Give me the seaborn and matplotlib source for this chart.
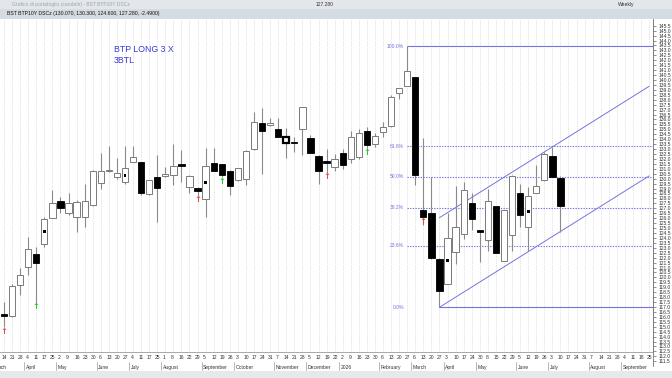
import numpy as np
import pandas as pd
import matplotlib
matplotlib.use("Agg")
import matplotlib.pyplot as plt
import seaborn as sns
from matplotlib.patches import Rectangle
from matplotlib.transforms import blended_transform_factory

# ---------------- data (weekly candles) ----------------
opens = [116.3, 116.1, 119.2, 121.1, 122.4, 123.35, 126.0, 127.75, 126.55, 126.1,
         126.1, 127.3, 129.55, 130.75, 130.15, 129.65, 131.7, 131.65, 128.4, 130.15,
         130.25, 130.35, 131.45, 129.2, 129.1, 127.9, 131.6, 131.45, 130.8, 129.85,
         129.95, 133.0, 135.6, 135.4, 135.05, 133.6, 133.75, 135.05, 134.1, 132.3,
         131.8, 131.2, 132.6, 132.0, 132.2, 134.8, 133.5,
         134.7, 135.3, 138.65, 139.4, 140.27, 126.83, 126.55, 121.9, 119.35, 122.6,
         124.35, 127.5, 124.8, 123.8, 127.2, 121.7, 124.25, 128.6, 125.15, 128.6,
         129.85, 132.3, 130.07]
highs = [117.5, 119.3, 121.0, 124.1, 123.1, 126.15, 128.85, 128.1, 128.6, 127.85,
         129.5, 130.9, 132.6, 133.3, 132.05, 133.3, 133.3, 131.7, 129.9, 132.4,
         131.2, 133.5, 132.9, 130.35, 129.15, 133.1, 133.1, 131.5, 130.85, 131.1,
         132.9, 136.8, 137.2, 136.1, 136.1, 135.1, 134.25, 137.3, 134.4, 132.35,
         133.0, 132.5, 133.0, 134.8, 135.0, 135.2, 134.6,
         135.7, 138.5, 139.2, 143.4, 140.3, 134.1, 130.2, 121.95, 126.55, 129.3,
         129.7, 128.5, 124.85, 129.0, 127.25, 126.85, 130.35, 129.45, 129.2, 131.4,
         132.75, 133.25, 130.3]
lows = [115.0, 116.0, 118.2, 120.25, 117.4, 123.1, 126.0, 126.5, 126.3, 124.6,
        125.1, 127.2, 129.0, 130.7, 130.0, 129.5, 131.7, 128.35, 128.35, 125.65,
        130.2, 129.35, 129.7, 128.5, 128.2, 126.1, 130.75, 130.2, 128.35, 129.8,
        129.4, 132.95, 130.5, 135.35, 134.2, 132.1, 132.75, 132.4, 132.6, 129.45,
        130.6, 130.8, 131.0, 131.6, 132.0, 132.9, 133.2,
        134.25, 135.25, 138.1, 139.35, 129.35, 125.3, 121.9, 116.97, 119.3, 121.35,
        123.85, 124.8, 121.6, 122.7, 122.45, 121.65, 122.7, 125.1, 122.7, 128.55,
        129.8, 130.15, 124.6]
closes = [116.1, 119.1, 120.2, 122.85, 121.5, 125.9, 127.5, 127.0, 127.5, 127.6,
          127.75, 130.8, 130.75, 130.9, 130.55, 131.05, 132.2, 128.5, 129.85, 129.1,
          130.45, 131.3, 131.3, 130.3, 128.8, 131.25, 130.8, 130.4, 129.25, 131.05,
          132.85, 135.7, 134.8, 135.6, 134.25, 134.2, 133.6, 137.25, 132.65, 130.8,
          131.6, 132.0, 131.4, 134.2, 134.6, 133.4, 134.3,
          135.2, 138.3, 139.15, 140.9, 130.37, 126.15, 121.95, 118.65, 124.0, 125.1,
          128.9, 125.9, 124.55, 127.75, 122.5, 126.8, 130.3, 126.3, 128.25, 129.25,
          132.5, 130.2, 127.28]
dot_weeks = [5, 15, 25, 55, 65]
red_arrow_weeks = [0, 24, 40, 52]
red_arrow_prices = [114.5, 127.9, 130.2, 125.7]
green_arrow_weeks = [4, 27, 45]
green_arrow_prices = [117.1, 129.7, 132.7]

day_labels = ["14", "21", "28", "4", "11", "17", "25", "2", "9", "16", "23", "30",
              "6", "13", "20", "27", "4", "11", "17", "25", "1", "8", "16", "22", "29",
              "5", "12", "19", "26", "3", "10", "17", "24", "31", "7", "14", "21", "28",
              "5", "12", "19", "22", "2", "9", "16", "23", "30", "6", "13", "20", "27",
              "6", "13", "20", "27", "3", "10", "17", "24", "30", "8", "15", "22", "29",
              "5", "12", "19", "26", "3", "10", "17", "24", "31", "7", "14", "21", "28",
              "4", "11", "18", "25"]
month_weeks = [-0.3, 3, 7, 12, 16, 20, 25, 29, 34, 38, 42, 47, 51, 55, 59, 64, 68, 73, 77]
month_names = ["rch", "April", "May", "June", "July", "August", "September", "October",
               "November", "December", "2026", "February", "March", "April", "May",
               "June", "July", "August", "September"]

fib_levels = [0.0, 0.236, 0.382, 0.5, 0.618, 1.0]
fib_labels = ["0.0%", "23.6%", "38.2%", "50.0%", "61.8%", "100.0%"]
fib_high, fib_low = 143.4, 116.97
fib_start_week, fib_low_week = 50, 54
channel_slope = 0.512
channel_lower0, channel_upper0 = 116.97, 126.05
channel_end_week = 80

# ---------------- figure setup ----------------
sns.set_theme(style="white")
plt.rcParams["font.family"] = ["Liberation Sans", "DejaVu Sans"]
W, H = 672, 378
fig = plt.figure(figsize=(W / 100, H / 100), dpi=100)
fig.patch.set_facecolor("white")

def fy(p):
    return 1 - p / H

ax = fig.add_axes([0, fy(352), 653 / W, (352 - 19) / H])
ax.set_facecolor("white")
XMIN, XMAX = -0.334, 80.48
YMIN, YMAX = 112.44, 146.18
ax.set_xlim(XMIN, XMAX)
ax.set_ylim(YMIN, YMAX)

n = len(opens)
weeks = np.arange(n)
df = pd.DataFrame({"week": weeks, "open": opens, "high": highs,
                   "low": lows, "close": closes})
df["up"] = df["close"] >= df["open"]

# vertical dotted grid
grid_weeks = np.arange(0, 81)
ax.vlines(grid_weeks, YMIN, YMAX, colors="#c9c9c9", linestyles=(0, (1, 1.5)), lw=0.5, zorder=0)

BW = 0.78
# wicks
ax.vlines(df["week"], df["low"], df["high"], colors="#8a8a8a", lw=0.8, zorder=2)
# bodies
up = df[df["up"]]
dn = df[~df["up"]]
ax.bar(up["week"], (up["close"] - up["open"]).clip(lower=0.06), bottom=up["open"], width=BW,
       color="white", edgecolor="#7a7a7a", lw=0.7, zorder=3)
ax.bar(dn["week"], (dn["open"] - dn["close"]).clip(lower=0.12), bottom=dn["close"], width=BW,
       color="black", edgecolor="black", lw=0.6, zorder=3)
# bold outlined candle
ax.bar([35], [closes[35] - opens[35]], bottom=[opens[35]], width=BW,
       color="white", edgecolor="black", lw=1.6, zorder=4)

# dots inside candles
dots = pd.DataFrame({"week": dot_weeks,
                     "price": [(opens[w] + closes[w]) / 2 for w in dot_weeks]})
sns.scatterplot(data=dots, x="week", y="price", marker="s", s=4, color="black",
                edgecolor="none", ax=ax, zorder=5, legend=False)

# arrows
for w, p in zip(red_arrow_weeks, red_arrow_prices):
    ax.text(w, p, "\u2191", color="#e8484a", fontsize=6, ha="center", va="center",
            fontweight="bold", family="DejaVu Sans", zorder=6)
for w, p in zip(green_arrow_weeks, green_arrow_prices):
    ax.text(w, p, "\u2191", color="#22cc22", fontsize=6, ha="center", va="center",
            fontweight="bold", family="DejaVu Sans", zorder=6)

# fibonacci levels
blue = "#7474e0"
rng = fib_high - fib_low
for lev, lab in zip(fib_levels, fib_labels):
    price = fib_low + lev * rng
    start = fib_low_week if lev == 0.0 else fib_start_week
    ls = "-" if lev in (0.0, 1.0) else (0, (1.2, 1.2))
    ax.hlines(price, start, XMAX, colors=blue, lw=0.8, linestyles=ls, zorder=1)
    ax.text(fib_start_week - 0.4, price, lab, color=blue, fontsize=3.6,
            ha="right", va="center", zorder=6)

# regression channel
cw = np.array([fib_low_week, channel_end_week])
ax.plot(cw, channel_lower0 + channel_slope * (cw - fib_low_week), color=blue, lw=0.7, zorder=1)
ax.plot(cw, channel_upper0 + channel_slope * (cw - fib_low_week), color=blue, lw=0.7, zorder=1)

# annotation text
ax.text(13.65, 143.55, "BTP LONG 3 X\n3BTL", color="#3a3adc", fontsize=6.3,
        ha="left", va="top", linespacing=1.3)

for s in ["top", "left"]:
    ax.spines[s].set_visible(False)
ax.spines["bottom"].set_color("#9a9a9a")
ax.spines["bottom"].set_linewidth(0.6)
ax.spines["right"].set_color("#9a9a9a")
ax.spines["right"].set_linewidth(0.6)
ax.set_yticks([])
ax.set_xlabel("")
ax.set_ylabel("")

# x axis: date cells
ax.set_xticks(np.arange(0, 81) - 0.5)
ax.set_xticklabels([])
ax.tick_params(axis="x", direction="out", length=5, width=0.5, color="#9a9a9a", pad=0)
trans = blended_transform_factory(ax.transData, ax.transAxes)
for i, lab in enumerate(day_labels):
    ax.text(i - 0.3, -0.008, lab, transform=trans, fontsize=3.6, ha="left", va="top",
            color="#333333", clip_on=False)
for w, name in zip(month_weeks, month_names):
    ax.text(w - 0.3, -0.038, name, transform=trans, fontsize=3.6, ha="left", va="top",
            color="#333333", clip_on=False)
    ax.plot([w - 0.5, w - 0.5], [-0.03, -0.055], transform=trans, color="#9a9a9a",
            lw=0.5, clip_on=False)

# price axis
ax2 = fig.add_axes([653 / W, fy(366), 0.0005, (366 - 19) / H])
ymin2 = 145.5 - (366 - 25.7) / 9.87
ax2.set_ylim(ymin2, YMAX)
ax2.set_xlim(0, 1)
ticks = np.arange(111.5, 145.51, 0.5)
ax2.set_yticks(ticks)
ax2.set_yticklabels([f"{t:.1f}" for t in ticks])
ax2.yaxis.tick_right()
ax2.tick_params(axis="y", direction="out", length=2.5, width=0.5, color="#666666",
                labelsize=3.6, pad=1.2, labelcolor="#333333")
ax2.set_xticks([])
for s in ["top", "bottom", "left"]:
    ax2.spines[s].set_visible(False)
ax2.spines["right"].set_color("#777777")
ax2.spines["right"].set_linewidth(0.6)

# window chrome (header and footer strips)
fig.patches.append(Rectangle((0, fy(9)), 1, 9 / H, transform=fig.transFigure,
                             facecolor="#e3e7ec", edgecolor="none", zorder=0))
fig.patches.append(Rectangle((0, fy(19)), 1, 10 / H, transform=fig.transFigure,
                             facecolor="#d5dbe2", edgecolor="none", zorder=0))
fig.patches.append(Rectangle((0, fy(378)), 1, 7 / H, transform=fig.transFigure,
                             facecolor="#e6e8eb", edgecolor="none", zorder=0))
fig.text(12 / W, fy(4.5), "Grafico di portafoglio (candele) - BST BTP10Y DSCz",
         fontsize=3.6, color="#9aa4b0", va="center")
fig.text(316 / W, fy(4.5), "127.280", fontsize=3.6, color="#333333", va="center")
fig.text(618 / W, fy(4.5), "Weekly", fontsize=3.6, color="#333333", va="center")
fig.text(7 / W, fy(14), "BST BTP10Y DSCz (130.070, 130.300, 124.600, 127.280, -2.4900)",
         fontsize=3.7, color="#111111", va="center")

fig.savefig("out.png", dpi=100, facecolor="white")
